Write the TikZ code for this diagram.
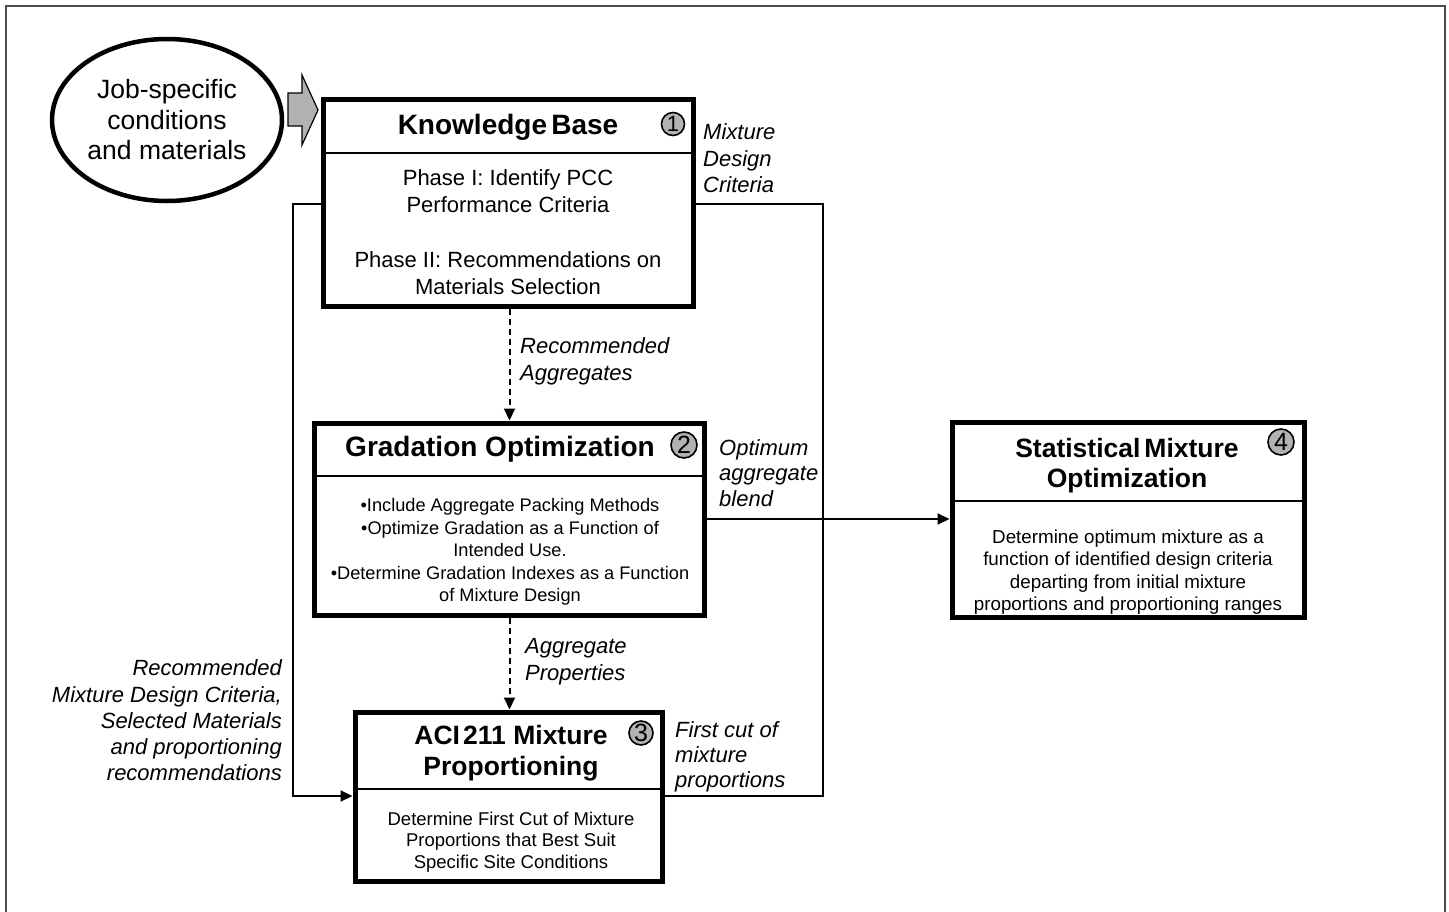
\documentclass[tikz,border=0pt]{standalone}
\usepackage{fontspec}
\setmainfont{Liberation Sans}
\usetikzlibrary{arrows.meta,shapes.geometric}
\begin{document}
\begin{tikzpicture}[x=1pt,y=-1pt,
  box/.style={draw, line width=5pt, inner sep=0pt},
  divider/.style={draw, line width=1.6pt},
  conn/.style={draw, line width=2pt, -{Triangle[length=12pt,width=11pt]}},
  plain/.style={draw, line width=2pt},
  dconn/.style={draw, line width=2pt, dash pattern=on 6pt off 4pt, -{Triangle[length=12pt,width=11pt]}},
  num/.style={circle, draw, line width=1.6pt, fill=black!30, inner sep=0pt, minimum size=#1, font=\fontsize{25}{25}\selectfont},
  num/.default=26pt,
  lbl/.style={inner sep=0pt, align=left, anchor=west, font=\itshape\fontsize{22}{26.5}\selectfont},
  txt/.style={inner sep=0pt, align=center}
]
\useasboundingbox (0,0) rectangle (1449,911);
% outer frame
\draw[line width=1.5pt, black!70] (6,912) -- (6,6) -- (1445,6) -- (1445,912);

% input ellipse and block arrow
\node[ellipse, draw, line width=4.5pt, minimum width=230pt, minimum height=162pt, inner sep=0pt, align=center,
      font=\fontsize{26.5}{30.5}\selectfont] (job) at (167,120) {Job-specific\\conditions\\and materials};
\draw[line width=1.2pt, fill=black!30] (288,93) -- (302,93) -- (302,75) -- (318,110) -- (302,145) -- (302,126) -- (288,126) -- cycle;

% Knowledge base
\node[box, minimum width=370pt, minimum height=207pt] (kb) at (508,202.5) {};
\draw[divider] (323,153) -- (693,153);
\node[txt, font=\bfseries\fontsize{28}{28}\selectfont] (kbt) at (508,127) {Knowledge\hspace{0.15em}Base};
\node[num=23pt, font=\fontsize{22}{22}\selectfont] (n1) at (673,124) {1};
\node[txt, font=\fontsize{22}{27}\selectfont] (kbb1) at (508,191.5) {Phase I: Identify PCC\\Performance Criteria};
\node[txt, font=\fontsize{22}{27}\selectfont] (kbb2) at (508,273) {Phase II: Recommendations on\\Materials Selection};

% Gradation optimization
\node[box, minimum width=390pt, minimum height=192pt] (grad) at (509.5,519) {};
\draw[divider] (315,476) -- (704,476);
\node[txt, font=\bfseries\fontsize{28}{28}\selectfont] (gradt) at (500,449) {Gradation Optimization};
\node[num] (n2) at (684,445) {2};
\node[txt, font=\fontsize{18.2}{22.5}\selectfont] (gradb) at (510,552) {\textbullet Include Aggregate Packing Methods\\\textbullet Optimize Gradation as a Function of\\Intended Use.\\\textbullet Determine Gradation Indexes as a Function\\of Mixture Design};

% Statistical mixture optimization
\node[box, minimum width=352pt, minimum height=195pt] (stat) at (1128,519.5) {};
\draw[divider] (952,501) -- (1304,501);
\node[txt, font=\bfseries\fontsize{26.5}{30}\selectfont] (statt) at (1127,466) {Statistical\hspace{0.15em}Mixture\\Optimization};
\node[num] (n4) at (1281,442) {4};
\node[txt, font=\fontsize{18.8}{22.3}\selectfont] (statb) at (1128,572) {Determine optimum mixture as a\\function of identified design criteria\\departing from initial mixture\\proportions and proportioning ranges};

% ACI 211
\node[box, minimum width=307pt, minimum height=169pt] (aci) at (508.5,796.5) {};
\draw[divider] (355,789) -- (662,789);
\node[txt, font=\bfseries\fontsize{26.5}{31}\selectfont] (acit) at (511,753.5) {ACI\hspace{0.12em}211 Mixture\\Proportioning};
\node[num=24pt] (n3) at (641,733) {3};
\node[txt, font=\fontsize{18.5}{21.5}\selectfont] (acib) at (511,842) {Determine First Cut of Mixture\\Proportions that Best Suit\\Specific Site Conditions};

% labels
\node[lbl] (l1) at (703,158.5) {Mixture\\Design\\Criteria};
\node[lbl] (l2) at (520,361.5) {Recommended\\Aggregates};
\node[lbl, font=\itshape\fontsize{22}{25.5}\selectfont] (l3) at (719,473) {Optimum\\aggregate\\blend};
\node[lbl] (l4) at (525,661.5) {Aggregate\\Properties};
\node[lbl, font=\itshape\fontsize{22}{25}\selectfont] (l5) at (675,757) {First cut of\\mixture\\proportions};
\node[inner sep=0pt, align=right, anchor=east, font=\itshape\fontsize{22}{26.25}\selectfont] (l6) at (282,720.5)
  {Recommended\\Mixture Design Criteria,\\Selected Materials\\and proportioning\hspace*{0.28em}\\recommendations};

% connector junctions
\coordinate (jl1) at (293,204);
\coordinate (jl2) at (293,796);
\coordinate (jr1) at (823,204);
\coordinate (jr2) at (823,796);
\coordinate (jm) at (823,519);

% connectors
\draw[conn] (kb.west |- jl1) -- (jl1) -- (jl2) -- (aci.west |- jl2);
\draw[plain] (kb.east |- jr1) -- (jr1) -- (jr2) -- (aci.east |- jr2);
\draw[conn] (grad.east |- jm) -- (stat.west |- jm);
\draw[dconn] (kb.south -| grad.north) -- (grad.north);
\draw[dconn] (grad.south) -- (grad.south |- aci.north);
\end{tikzpicture}
\end{document}
